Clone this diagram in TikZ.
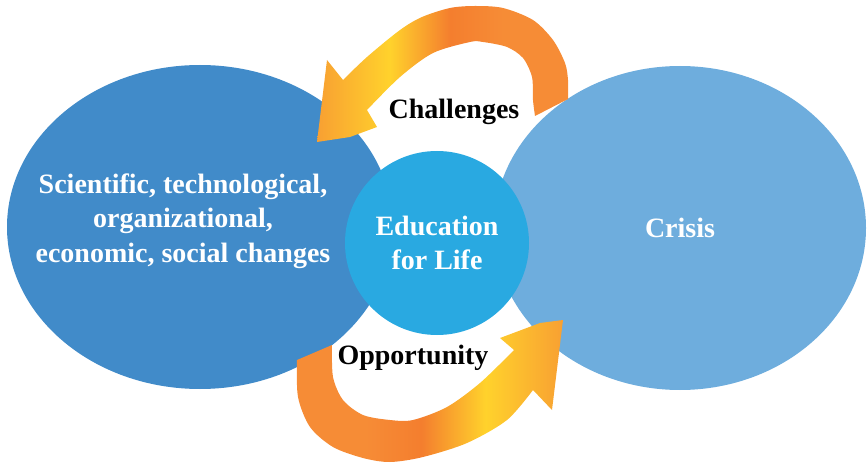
\documentclass[tikz,border=0pt]{standalone}
\usepackage{fontspec}
\setmainfont{Liberation Serif}
\usepackage{tikz}
\usetikzlibrary{shapes.geometric}
\definecolor{changeblue}{HTML}{418BC9}
\definecolor{crisisblue}{HTML}{6EADDD}
\definecolor{lifeblue}{HTML}{29A9E1}
\definecolor{swooshA}{HTML}{F8A032}
\definecolor{swooshB}{HTML}{FFD22C}
\definecolor{swooshC}{HTML}{F47E2E}
\definecolor{swooshD}{HTML}{F68C36}
\pgfdeclarehorizontalshading{swoosh}{100bp}{color(0bp)=(swooshA); color(25bp)=(swooshA); color(39.5bp)=(swooshB); color(51.5bp)=(swooshC); color(62bp)=(swooshD); color(100bp)=(swooshD)}
\tikzstyle{bubble} = [ellipse, 
draw=none, 
inner sep=0pt, 
text=white, 
align=center, 
font=\fontsize{28}{34.5}\selectfont\bfseries]
\tikzstyle{bubbletext} = [inner sep=0pt, text=white, align=center, font=\fontsize{28}{34.5}\selectfont\bfseries]
\tikzstyle{caption} = [inner sep=0pt, text=black, font=\fontsize{28}{34.5}\selectfont\bfseries]
\tikzstyle{swooshfill} = [shading=swoosh, draw=none]

\begin{document}
\begin{tikzpicture}[x=1pt, y=-1pt]
    \useasboundingbox (0,0) rectangle (868,465);

    \node (changes) [bubble, fill=changeblue, minimum width=386pt, minimum height=324pt] at (200,227) {};
    \node (crisis) [bubble, fill=crisisblue, minimum width=372pt, minimum height=324pt] at (680,228) {Crisis};
    \node (life) [bubble, circle, fill=lifeblue, minimum size=184pt] at (437,243) {Education\\for Life};
    \node (changestext) [bubbletext] at (183,221) {Scientific, technological,\\organizational,\\economic, social changes};

    % upper swoosh, back into the changes
    \shade [swooshfill] plot[smooth] coordinates {(568,99) (568,80) (565,63) (553,40) (533,20) (503,8) (475,6) (450,8) (422,17) (400,30) (367,57) (343,80)}
        -- (327,60) -- (317,142) -- (350,137) -- (377,127)
        -- plot[smooth] coordinates {(367,110) (400,77) (433,53) (470,42) (483,42) (507,47) (523,58) (532,77) (533,100) (535,116)} -- cycle;

    % lower swoosh, on to the crisis
    \shade [swooshfill, shading angle=180] plot[smooth] coordinates {(297,360) (298,397) (310,427) (333,447) (363,458) (390,462) (423,457) (467,443) (507,420) (533,390)}
        -- (552,410) -- (563,320) -- (540,323) -- (500,338)
        -- plot[smooth] coordinates {(514,350) (480,383) (447,407) (413,420) (390,420) (363,415) (343,400) (333,377) (332,345)} -- cycle;

    \node (challenges) [caption] at (454,112) {Challenges};
    \node (opportunity) [caption] at (413,358) {Opportunity};
\end{tikzpicture}
\end{document}
